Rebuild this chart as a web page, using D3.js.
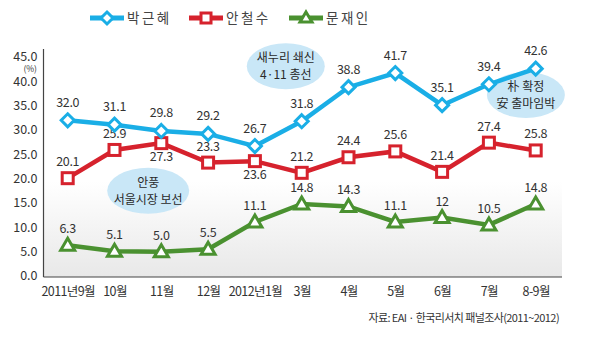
<!DOCTYPE html>
<html><head><meta charset="utf-8">
<script src="https://cdn.jsdelivr.net/npm/d3@7"></script>
<style>
body{margin:0;background:#fff}
svg{display:block}
text{font-family:"Noto Sans CJK KR","Noto Sans",sans-serif}
</style></head>
<body><svg id="c" width="602" height="357"></svg>
<script>
const categories = ["2011년9월","10월","11월","12월","2012년1월","3월","4월","5월","6월","7월","8-9월"];
const parkValues = [32.0,31.1,29.8,29.2,26.7,31.8,38.8,41.7,35.1,39.4,42.6];
const parkLabels = ["32.0","31.1","29.8","29.2","26.7","31.8","38.8","41.7","35.1","39.4","42.6"];
const ahnValues = [20.1,25.9,27.3,23.3,23.6,21.2,24.4,25.6,21.4,27.4,25.8];
const ahnLabels = ["20.1","25.9","27.3","23.3","23.6","21.2","24.4","25.6","21.4","27.4","25.8"];
const ahnLabelBelow = [false,false,true,false,true,false,false,false,false,false,false];
const moonValues = [6.3,5.1,5.0,5.5,11.1,14.8,14.3,11.1,12,10.5,14.8];
const moonLabels = ["6.3","5.1","5.0","5.5","11.1","14.8","14.3","11.1","12","10.5","14.8"];
const yTicks = [0,5,10,15,20,25,30,35,40,45];
const seriesNames = ["박근혜","안철수","문재인"];
const noteTexts = [["새누리 쇄신","4·11 총선"],["안풍","서울시장 보선"],["朴 확정","安 출마임박"]];
const noteAnchors = [[4.66,43.1],[1.72,17.5],[9.79,37.2]]; // [category index, value]
const sourceText = "자료: EAI · 한국리서치 패널조사(2011~2012)";

const svg = d3.select("#c");
const x = d3.scalePoint().domain(categories).range([67.7, 535.7]);
const y = d3.scaleLinear().domain([0,45]).range([276, 57]);
const xi = i => x(categories[0]) + i * x.step();

const colors = {blue:"#1aaee6", red:"#d6222d", green:"#4a9130"};

// background gradient
const defs = svg.append("defs");
const g = defs.append("linearGradient").attr("id","bg").attr("x1",0).attr("y1",0).attr("x2",0).attr("y2",1);
g.append("stop").attr("offset","0").attr("stop-color","#ffffff");
g.append("stop").attr("offset","0.58").attr("stop-color","#ffffff");
g.append("stop").attr("offset","1").attr("stop-color","#e8e8e8");
svg.append("rect").attr("x",44).attr("y",50).attr("width",518).attr("height",227).attr("fill","url(#bg)");

// annotations (ellipses)
noteTexts.forEach((lines,k)=>{
  const cx = xi(noteAnchors[k][0]), cy = y(noteAnchors[k][1]);
  svg.append("ellipse").attr("cx",cx).attr("cy",cy).attr("rx",k===1?41:39).attr("ry",23).attr("fill","#c9e7f7");
  lines.forEach((t,j)=>{
    svg.append("text").attr("x",cx).attr("y",cy + (j===0?-4:13)).attr("text-anchor","middle")
      .attr("font-size",12).attr("fill","#2a2a2a").text(t);
  });
});

// axes
const yAxis = d3.axisLeft(y).tickValues(yTicks).tickFormat(d3.format(".1f")).tickSize(0).tickPadding(6);
const ya = svg.append("g").attr("transform","translate(43.5,0)").call(yAxis);
ya.select(".domain").attr("d","M0,49V277").attr("stroke","#444").attr("stroke-width",1.2);
ya.selectAll("text").attr("font-size",12.5).attr("fill","#333").attr("font-family","Noto Sans CJK KR").attr("dy","0.3em");
svg.append("text").attr("x",37).attr("y",71.5).attr("text-anchor","end").attr("font-size",8.5).attr("fill","#333").text("(%)");

const xAxis = d3.axisBottom(x).tickSize(0).tickPadding(10);
const xa = svg.append("g").attr("transform","translate(0,277)").call(xAxis);
xa.select(".domain").attr("d","M43.5,0H562").attr("stroke","#444").attr("stroke-width",1.2);
xa.selectAll("text").attr("font-size",12.5).attr("fill","#333").attr("font-family","Noto Sans CJK KR").attr("letter-spacing","-0.6");

// series
const line = d3.line().x((d,i)=>x(categories[i])).y(d=>y(d));
function drawSeries(vals, color, shape, labels, below, up){
  svg.append("path").datum(vals).attr("d",line).attr("fill","none").attr("stroke",color).attr("stroke-width",4.5).attr("stroke-linejoin","miter");
  vals.forEach((v,i)=>{
    const px = x(categories[i]), py = y(v);
    if(shape==="diamond"){
      svg.append("path").attr("d",`M${px},${py-6.5}L${px+6.5},${py}L${px},${py+6.5}L${px-6.5},${py}Z`)
        .attr("fill","#fff").attr("stroke",color).attr("stroke-width",3);
    } else if(shape==="square"){
      svg.append("rect").attr("x",px-5.5).attr("y",py-5.5).attr("width",11).attr("height",11)
        .attr("fill","#fff").attr("stroke",color).attr("stroke-width",3);
    } else {
      svg.append("path").attr("d",`M${px},${py-7}L${px+7},${py+5}L${px-7},${py+5}Z`)
        .attr("fill","#fff").attr("stroke",color).attr("stroke-width",3).attr("stroke-linejoin","miter");
    }
    const b = below && below[i];
    svg.append("text").attr("x",px).attr("y", b ? py+18 : py-(up||12)).attr("text-anchor","middle")
      .attr("font-size",12.5).attr("fill","#333").attr("letter-spacing","-0.3").text(labels[i]);
  });
}
drawSeries(moonValues, colors.green, "triangle", moonLabels);
drawSeries(ahnValues, colors.red, "square", ahnLabels, ahnLabelBelow);
drawSeries(parkValues, colors.blue, "diamond", parkLabels, null, 13.5);

// legend
const legendX = [90, 189, 289];
const legendColors = [colors.blue, colors.red, colors.green];
const legendShapes = ["diamond","square","triangle"];
seriesNames.forEach((n,k)=>{
  const lx = legendX[k], ly = 18, c = legendColors[k];
  svg.append("line").attr("x1",lx).attr("x2",lx+34).attr("y1",ly).attr("y2",ly).attr("stroke",c).attr("stroke-width",5);
  const mx = lx+17;
  if(legendShapes[k]==="diamond"){
    svg.append("path").attr("d",`M${mx},${ly-6}L${mx+6},${ly}L${mx},${ly+6}L${mx-6},${ly}Z`).attr("fill","#fff").attr("stroke",c).attr("stroke-width",3);
  } else if(legendShapes[k]==="square"){
    svg.append("rect").attr("x",mx-5).attr("y",ly-5).attr("width",10).attr("height",10).attr("fill","#fff").attr("stroke",c).attr("stroke-width",3);
  } else {
    svg.append("path").attr("d",`M${mx},${ly-6}L${mx+6},${ly+4}L${mx-6},${ly+4}Z`).attr("fill","#fff").attr("stroke",c).attr("stroke-width",3);
  }
  svg.append("text").attr("x",lx+37).attr("y",ly+5).attr("font-size",13.5).attr("fill","#444").attr("letter-spacing","2.5").text(n);
});

// source
svg.append("text").attr("x",559).attr("y",322).attr("text-anchor","end").attr("font-size",11).attr("fill","#333").attr("letter-spacing","-0.6").text(sourceText);
</script></body></html>
